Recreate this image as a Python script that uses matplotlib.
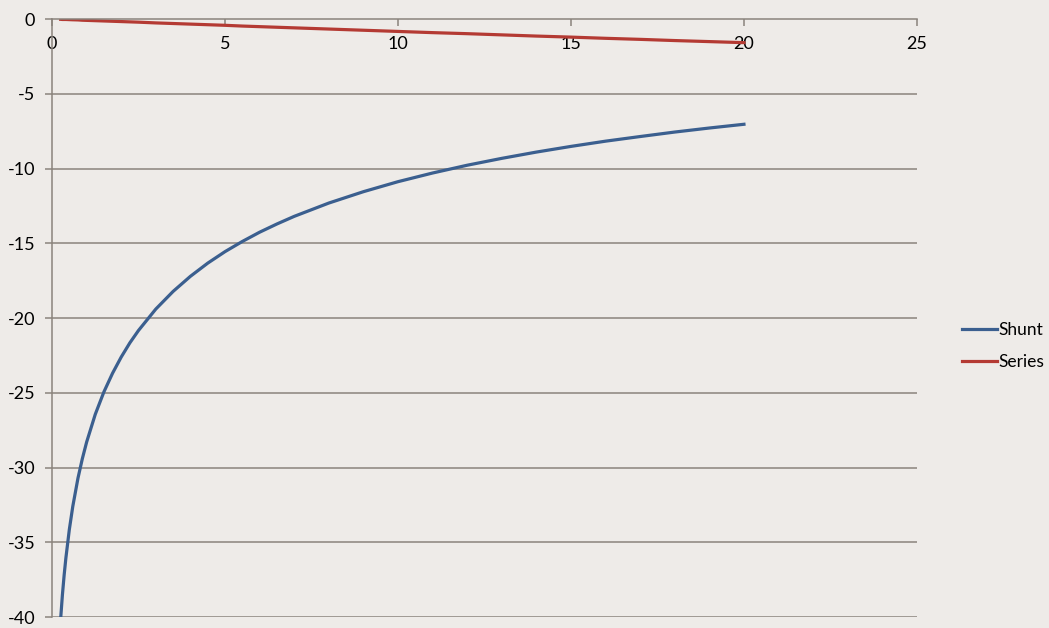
import matplotlib.pyplot as plt

# resistance values (x)
r = [0.25, 0.3, 0.35, 0.4, 0.5, 0.6, 0.75, 0.875, 1, 1.25, 1.5, 1.75, 2, 2.25, 2.5,
     3, 3.5, 4, 4.5, 5, 5.5, 6, 6.5, 7, 8, 9, 10, 11, 12, 13, 14, 15, 16, 17, 18, 19, 20]

# attenuation in dB
shunt = [-40.09, -38.52, -37.20, -36.06, -34.15, -32.60, -30.71, -29.42, -28.30, -26.44,
         -24.94, -23.69, -22.61, -21.66, -20.83, -19.40, -18.22, -17.21, -16.33, -15.56,
         -14.88, -14.26, -13.71, -13.20, -12.31, -11.55, -10.88, -10.30, -9.78, -9.32,
         -8.90, -8.52, -8.17, -7.86, -7.56, -7.29, -7.04]
series = [-0.02, -0.03, -0.03, -0.03, -0.04, -0.05, -0.06, -0.08, -0.09, -0.11,
          -0.13, -0.15, -0.17, -0.19, -0.21, -0.26, -0.30, -0.34, -0.38, -0.42,
          -0.47, -0.51, -0.55, -0.59, -0.67, -0.75, -0.83, -0.91, -0.98, -1.06,
          -1.14, -1.21, -1.29, -1.36, -1.44, -1.51, -1.58]

xticks = [0, 5, 10, 15, 20, 25]
yticks = [0, -5, -10, -15, -20, -25, -30, -35, -40]

bg = "#eeebe8"
grid_col = "#8a837c"

plt.rcParams['font.family'] = ['Lato', 'DejaVu Sans']
plt.rcParams['axes.unicode_minus'] = False

fig = plt.figure(figsize=(10.49, 6.28), dpi=100, facecolor=bg)
ax = fig.add_axes([0.0496, 0.0175, 0.8245, 0.9522])
ax.set_facecolor(bg)

ax.plot(r, shunt, color="#3b5f8f", lw=2.3, label="Shunt")
ax.plot(r, series, color="#b43a33", lw=2.3, label="Series")

ax.set_xlim(0, 25)
ax.set_ylim(-40, 0)
ax.set_xticks(xticks)
ax.set_yticks(yticks)

for y in yticks[1:]:
    ax.axhline(y, color=grid_col, lw=1.1, zorder=0)

ax.spines['right'].set_visible(False)
ax.spines['top'].set_visible(False)
ax.spines['bottom'].set_position(('data', 0))
for s in ['bottom', 'left']:
    ax.spines[s].set_color(grid_col)
    ax.spines[s].set_linewidth(1.1)

ax.tick_params(axis='both', colors=grid_col, labelcolor='black', labelsize=13,
               length=5, width=1.1, direction='out')
ax.tick_params(axis='x', pad=7)
ax.tick_params(axis='y', pad=7)

fig.legend(loc='center left', bbox_to_anchor=(0.917, 0.449), frameon=False,
           borderaxespad=0, borderpad=0, fontsize=12.5, handlelength=2.0,
           handletextpad=0.1, labelspacing=0.95)

fig.savefig("out.png", dpi=100, facecolor=bg)
